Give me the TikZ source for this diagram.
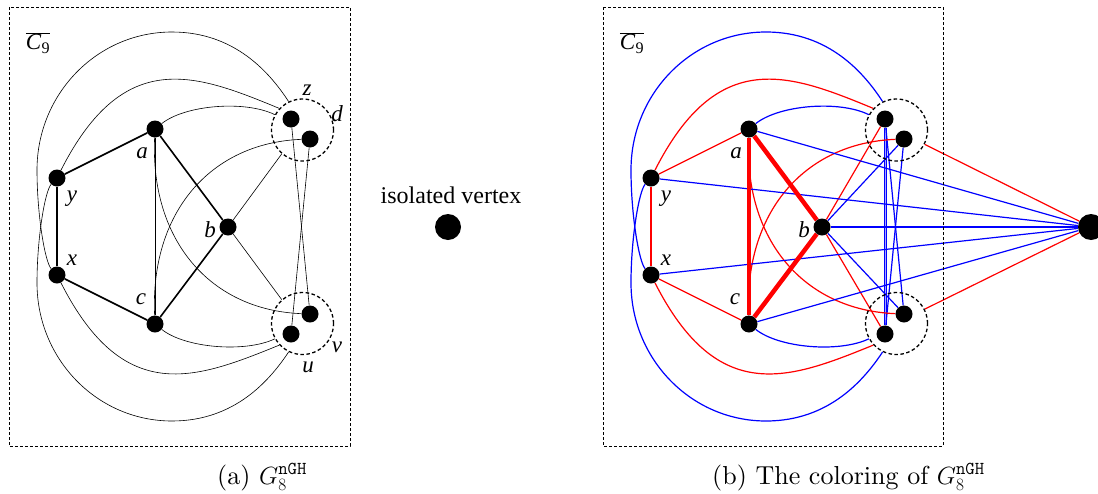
\documentclass[tikz,border=0pt]{standalone}
\usepackage{fontspec}
\newfontfamily\lab{Liberation Serif}
\newfontfamily\capfont{lmroman10-regular.otf}
\usetikzlibrary{backgrounds}
\begin{document}
\begin{tikzpicture}[x=1pt,y=-1pt,
  vtx/.style={circle, fill=black, inner sep=0pt, minimum size=17pt},
  iso/.style={circle, fill=black, inner sep=0pt, minimum size=26pt},
  grp/.style={circle, draw, line width=1.3pt, dash pattern=on 3.5pt off 2.5pt, inner sep=0pt, minimum size=62pt},
  frm/.style={draw, line width=0.6pt, dash pattern=on 3pt off 2pt},
  tn/.style={line width=0.6pt},
  bd/.style={line width=1.6pt},
  re/.style={red, line width=1.2pt},
  be/.style={blue, line width=1.2pt},
  rt/.style={red, line width=4.5pt},
  lbl/.style={font={\lab\itshape\fontsize{23}{23}\selectfont}, inner sep=0pt},
  captxt/.style={font={\capfont\fontsize{26}{30}\selectfont}, inner sep=0pt, anchor=base west}]
\useasboundingbox (0,0) rectangle (1098,493);

% ---------- frames ----------
\draw[frm] (9,7) rectangle (350,446);
\draw[frm] (603,7) rectangle (943,446);

% ---------- panel (a) nodes ----------
\node[vtx] (a) at (155,129) {};
\node[vtx] (b) at (228,227) {};
\node[vtx] (c) at (155,324) {};
\node[vtx] (y) at (57,178) {};
\node[vtx] (x) at (57,275) {};
\node[vtx] (z) at (291,119) {};
\node[vtx] (d) at (310,139) {};
\node[vtx] (u) at (291,334) {};
\node[vtx] (v) at (310,314) {};
\node[grp] (T) at (302.5,130) {};
\node[grp] (B) at (302.5,323.5) {};
\node[iso] (iso) at (448,227) {};

\node[lbl] (la) at (142,153) {a};
\node[lbl] (lb) at (210,230) {b};
\node[lbl] (lc) at (141,299) {c};
\node[lbl] (ly) at (72,199) {y};
\node[lbl] (lx) at (72,260) {x};
\node[lbl] (lz) at (307,90) {z};
\node[lbl] (ld) at (337,114) {d};
\node[lbl] (lv) at (337,347) {v};
\node[lbl] (lu) at (308,367) {u};
\node[inner sep=0pt, font={\lab\fontsize{23}{23}\selectfont}] (lC) at (38,43) {$\overline{\hbox{\textit{C}\textsubscript{9}}}$};
\node[inner sep=0pt, font={\lab\fontsize{24}{24}\selectfont}, anchor=base] (liso) at (451,203) {isolated vertex};
\node[captxt] (capa) at (217,484) {(a) $G_8^{\mathtt{nGH}}$};

% ---------- panel (b) nodes ----------
\node[vtx] (a2) at (749,129) {};
\node[vtx] (b2) at (822,227) {};
\node[vtx] (c2) at (749,324) {};
\node[vtx] (y2) at (651,178) {};
\node[vtx] (x2) at (651,275) {};
\node[vtx] (z2) at (885,119) {};
\node[vtx] (d2) at (904,139) {};
\node[vtx] (u2) at (885,334) {};
\node[vtx] (v2) at (904,314) {};
\node[grp] (T2) at (896.5,130) {};
\node[grp] (B2) at (896.5,323.5) {};
\node[iso] (w) at (1091,227) {};

\node[lbl] (la2) at (736,153) {a};
\node[lbl] (lb2) at (804,230) {b};
\node[lbl] (lc2) at (735,299) {c};
\node[lbl] (ly2) at (666,199) {y};
\node[lbl] (lx2) at (666,260) {x};
\node[inner sep=0pt, font={\lab\fontsize{23}{23}\selectfont}] (lC2) at (632,43) {$\overline{\hbox{\textit{C}\textsubscript{9}}}$};
\node[captxt] (capb) at (712,484) {(b) The coloring of $G_8^{\mathtt{nGH}}$};

\begin{scope}[on background layer]
% ---------- panel (a) edges ----------
\draw[tn, double, double distance=1.1pt] (z) -- (u);
\draw[tn] (z) -- (v);
\draw[tn] (d) -- (u);
\draw[tn] (a) -- (c);
\draw[tn] (a) .. controls (150,240) and (210,310) .. (v);
\draw[tn] (c) .. controls (150,213) and (210,143) .. (d);
\draw[tn] (b) -- (T.229);
\draw[tn] (b) -- (B.131);
\draw[tn] (a) .. controls (185,105) and (245,100) .. (T.151);
\draw[tn] (y) .. controls (124,46) and (196,74) .. (T.137);
\draw[tn] (x) .. controls (45,262) and (37,215) .. (37,170) .. controls (37,94) and (97,32) .. (172,32) .. controls (235,32) and (270,73) .. (T.116);
\draw[tn] (c) .. controls (185,348) and (245,353) .. (B.209);
\draw[tn] (x) .. controls (124,407) and (196,379) .. (B.223);
\draw[tn] (y) .. controls (45,191) and (37,238) .. (37,283) .. controls (37,359) and (97,421) .. (172,421) .. controls (235,421) and (270,380) .. (B.244);
\draw[bd] (y) -- (a);
\draw[bd] (a) -- (b);
\draw[bd] (b) -- (c);
\draw[bd] (c) -- (x);
\draw[bd] (x) -- (y);

% ---------- panel (b) edges ----------
\draw[be, double=blue!35, double distance=0.6pt] (z2) -- (u2);
\draw[be] (z2) -- (v2);
\draw[be] (d2) -- (u2);
\draw[re] (a2) .. controls (744,240) and (804,310) .. (v2);
\draw[re] (c2) .. controls (744,213) and (804,143) .. (d2);
\draw[re] (b2) -- (z2);
\draw[be] (b2) -- (d2);
\draw[re] (b2) -- (u2);
\draw[be] (b2) -- (v2);
\draw[be] (a2) .. controls (779,105) and (839,100) .. (T2.151);
\draw[re] (y2) .. controls (718,46) and (790,74) .. (T2.137);
\draw[be] (x2) .. controls (639,262) and (631,215) .. (631,170) .. controls (631,94) and (691,32) .. (766,32) .. controls (829,32) and (864,73) .. (T2.116);
\draw[be] (c2) .. controls (779,348) and (839,353) .. (B2.209);
\draw[re] (x2) .. controls (718,407) and (790,379) .. (B2.223);
\draw[be] (y2) .. controls (639,191) and (631,238) .. (631,283) .. controls (631,359) and (691,421) .. (766,421) .. controls (829,421) and (864,380) .. (B2.244);
\draw[be] (a2) -- (w);
\draw[be] (y2) -- (w);
\draw[be] (b2) -- (w);
\draw[be] (x2) -- (w);
\draw[be] (c2) -- (w);
\draw[re] (T2.333) -- (w);
\draw[re] (B2.27) -- (w);
\draw[re] (y2) -- (a2);
\draw[re] (x2) -- (y2);
\draw[re] (c2) -- (x2);
\draw[rt] (a2) -- (c2);
\draw[rt] (a2) -- (b2);
\draw[rt] (b2) -- (c2);
\end{scope}
\end{tikzpicture}
\end{document}
